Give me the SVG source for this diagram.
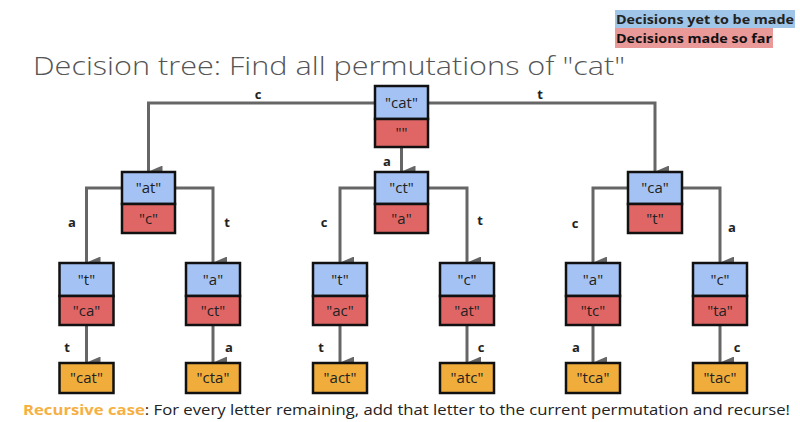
<svg xmlns="http://www.w3.org/2000/svg" width="800" height="422" viewBox="0 0 800 422">
<defs>
<marker id="ah" markerUnits="userSpaceOnUse" markerWidth="13" markerHeight="15" refX="6.5" refY="14" orient="auto-start-reverse" viewBox="0 0 13 15">
<path d="M0,0 L13,0 L6.5,15 Z" fill="#666"/>
</marker>
<style>
.t{font-family:"Open Sans","Liberation Sans",sans-serif;}
.node text{font-family:"Open Sans","Liberation Sans",sans-serif;font-size:15px;fill:#222;text-anchor:middle;}
.b{fill:#a4c2f4;stroke:#111;stroke-width:2.5;}
.r{fill:#e06666;stroke:#111;stroke-width:2.5;}
.o{fill:#f1ad3c;stroke:#111;stroke-width:2.5;}
.e{fill:none;stroke:#666;stroke-width:3;}
.lbl{font-family:"Open Sans","Liberation Sans",sans-serif;font-size:13px;font-weight:bold;fill:#222;text-anchor:middle;}
</style>
</defs>
<rect width="800" height="422" fill="#fff"/>
<g id="legend">
<rect x="615" y="10" width="180" height="18" fill="#9fc5e8"/>
<rect x="615" y="28" width="158" height="20" fill="#ea9999"/>
<text class="t" x="616" y="24" font-size="13" font-weight="bold" fill="#222" textLength="178" lengthAdjust="spacingAndGlyphs">Decisions yet to be made</text>
<text class="t" x="616" y="43" font-size="13" font-weight="bold" fill="#111" textLength="156" lengthAdjust="spacingAndGlyphs">Decisions made so far</text>
</g>
<text id="title" class="t" x="33" y="75" font-size="26" font-weight="300" fill="#555" textLength="592" lengthAdjust="spacingAndGlyphs">Decision tree: Find all permutations of "cat"</text>
<g id="connectors">
<path class="e" d="M375,103 H148.5 V172" marker-end="url(#ah)"/>
<path class="e" d="M428,103 H655 V172" marker-end="url(#ah)"/>
<path class="e" d="M401.5,147 V172" marker-end="url(#ah)"/>
<path class="e" d="M122,188 H86.5 V263" marker-end="url(#ah)"/>
<path class="e" d="M175,188 H213 V263" marker-end="url(#ah)"/>
<path class="e" d="M375,188 H340 V263" marker-end="url(#ah)"/>
<path class="e" d="M428,188 H467 V263" marker-end="url(#ah)"/>
<path class="e" d="M628,188 H593 V263" marker-end="url(#ah)"/>
<path class="e" d="M682,188 H720 V263" marker-end="url(#ah)"/>
<path class="e" d="M86.5,325 V363" marker-end="url(#ah)"/>
<path class="e" d="M213,325 V363" marker-end="url(#ah)"/>
<path class="e" d="M340,325 V363" marker-end="url(#ah)"/>
<path class="e" d="M467,325 V363" marker-end="url(#ah)"/>
<path class="e" d="M593,325 V363" marker-end="url(#ah)"/>
<path class="e" d="M720,325 V363" marker-end="url(#ah)"/>
<text class="lbl" x="258" y="99">c</text>
<text class="lbl" x="540" y="99">t</text>
<text class="lbl" x="387" y="166">a</text>
<text class="lbl" x="72" y="227">a</text>
<text class="lbl" x="227" y="227">t</text>
<text class="lbl" x="324" y="227">c</text>
<text class="lbl" x="480" y="225">t</text>
<text class="lbl" x="575" y="228">c</text>
<text class="lbl" x="732" y="232" font-weight="normal">a</text>
<text class="lbl" x="67" y="352">t</text>
<text class="lbl" x="229" y="352">a</text>
<text class="lbl" x="321" y="352" font-weight="normal">t</text>
<text class="lbl" x="481" y="352">c</text>
<text class="lbl" x="576" y="352">a</text>
<text class="lbl" x="737" y="352">c</text>
</g>
<g id="n-root" class="node">
<rect class="b" x="375" y="86" width="53" height="33"/><rect class="r" x="375" y="119" width="53" height="28"/>
<text x="401.5" y="108">"cat"</text><text x="401.5" y="138">""</text>
</g>
<g id="n-at" class="node">
<rect class="b" x="122" y="172" width="53" height="32"/><rect class="r" x="122" y="204" width="53" height="29"/>
<text x="148.5" y="193">"at"</text><text x="148.5" y="224">"c"</text>
</g>
<g id="n-ct" class="node">
<rect class="b" x="375" y="172" width="53" height="32"/><rect class="r" x="375" y="204" width="53" height="29"/>
<text x="401.5" y="193">"ct"</text><text x="401.5" y="224">"a"</text>
</g>
<g id="n-ca" class="node">
<rect class="b" x="628" y="172" width="54" height="32"/><rect class="r" x="628" y="204" width="54" height="29"/>
<text x="655" y="193">"ca"</text><text x="655" y="224">"t"</text>
</g>
<g id="n-t-ca" class="node">
<rect class="b" x="59.5" y="263" width="54" height="33"/><rect class="r" x="59.5" y="296" width="54" height="29"/>
<text x="86.5" y="285">"t"</text><text x="86.5" y="316">"ca"</text>
</g>
<g id="n-a-ct" class="node">
<rect class="b" x="186" y="263" width="54" height="33"/><rect class="r" x="186" y="296" width="54" height="29"/>
<text x="213" y="285">"a"</text><text x="213" y="316">"ct"</text>
</g>
<g id="n-t-ac" class="node">
<rect class="b" x="313" y="263" width="54" height="33"/><rect class="r" x="313" y="296" width="54" height="29"/>
<text x="340" y="285">"t"</text><text x="340" y="316">"ac"</text>
</g>
<g id="n-c-at" class="node">
<rect class="b" x="440" y="263" width="54" height="33"/><rect class="r" x="440" y="296" width="54" height="29"/>
<text x="467" y="285">"c"</text><text x="467" y="316">"at"</text>
</g>
<g id="n-a-tc" class="node">
<rect class="b" x="566" y="263" width="54" height="33"/><rect class="r" x="566" y="296" width="54" height="29"/>
<text x="593" y="285">"a"</text><text x="593" y="316">"tc"</text>
</g>
<g id="n-c-ta" class="node">
<rect class="b" x="693" y="263" width="54" height="33"/><rect class="r" x="693" y="296" width="54" height="29"/>
<text x="720" y="285">"c"</text><text x="720" y="316">"ta"</text>
</g>
<g id="leaf-cat" class="node"><rect class="o" x="59.5" y="363" width="54" height="30"/><text x="86.5" y="383">"cat"</text></g>
<g id="leaf-cta" class="node"><rect class="o" x="186" y="363" width="54" height="30"/><text x="213" y="383">"cta"</text></g>
<g id="leaf-act" class="node"><rect class="o" x="313" y="363" width="54" height="30"/><text x="340" y="383">"act"</text></g>
<g id="leaf-atc" class="node"><rect class="o" x="440" y="363" width="54" height="30"/><text x="467" y="383">"atc"</text></g>
<g id="leaf-tca" class="node"><rect class="o" x="566" y="363" width="54" height="30"/><text x="593" y="383">"tca"</text></g>
<g id="leaf-tac" class="node"><rect class="o" x="693" y="363" width="54" height="30"/><text x="720" y="383">"tac"</text></g>
<text id="caption" class="t" x="23" y="415" font-size="15" fill="#222" textLength="767" lengthAdjust="spacingAndGlyphs"><tspan fill="#f6b042" font-weight="bold">Recursive case</tspan>: For every letter remaining, add that letter to the current permutation and recurse!</text>
</svg>
